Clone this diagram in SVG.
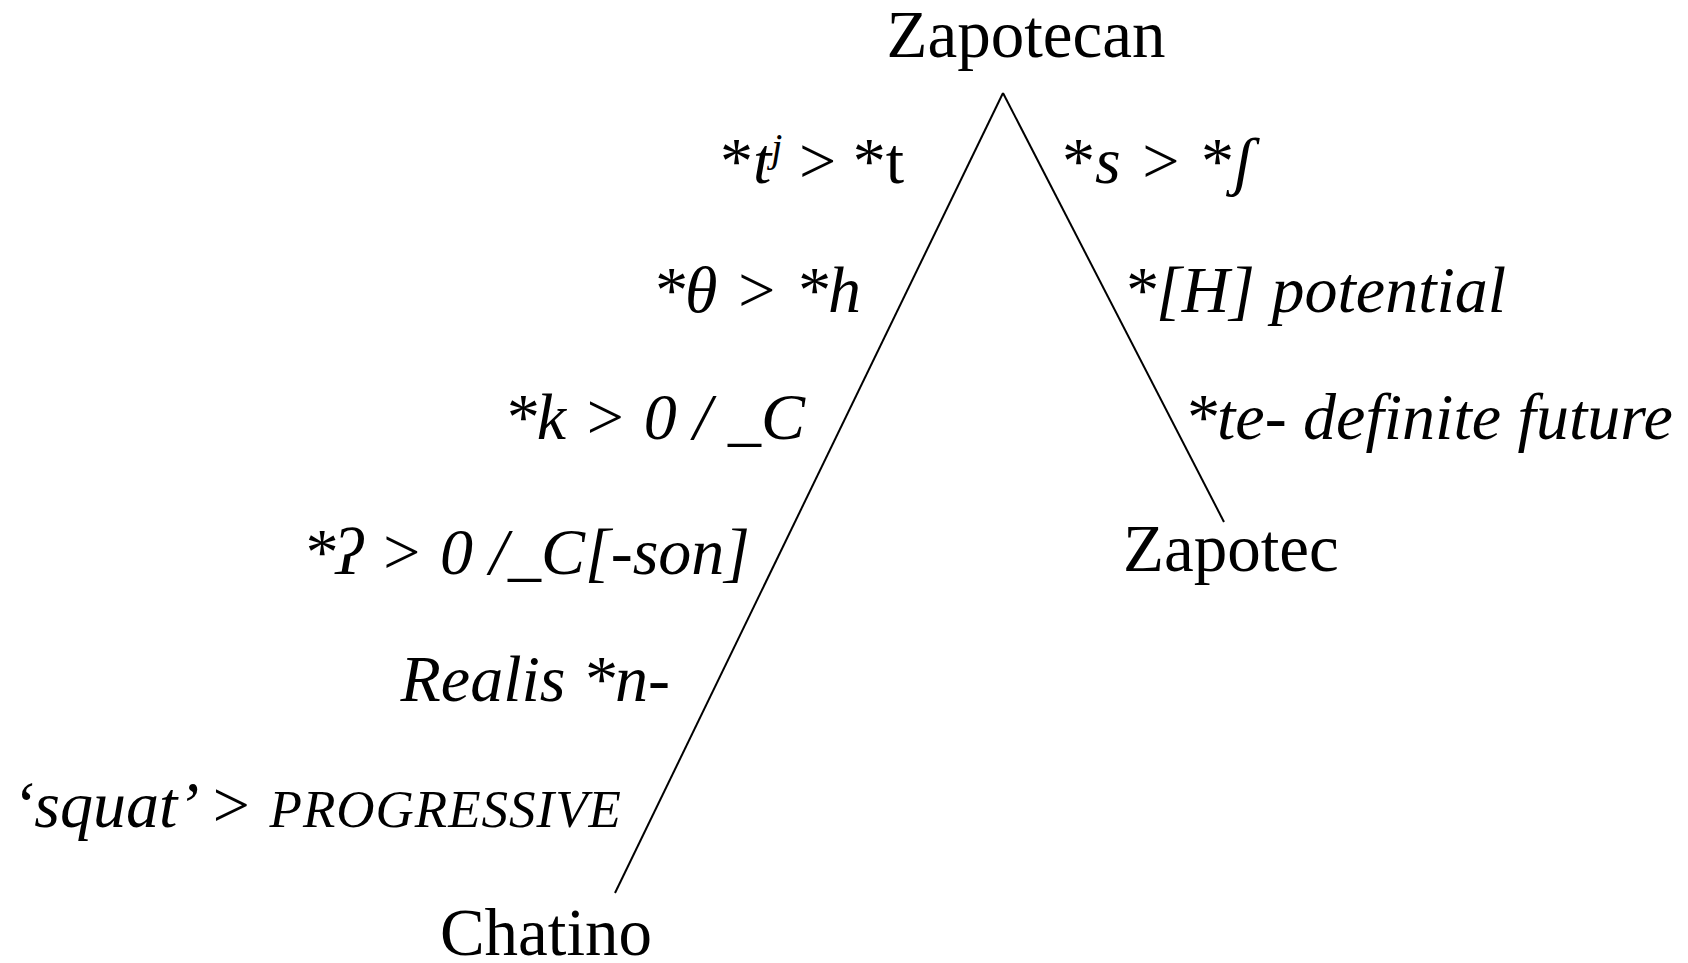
<svg xmlns="http://www.w3.org/2000/svg" width="1688" height="963" viewBox="0 0 1688 963">
<style>
text{font-family:"Liberation Serif","Times New Roman",serif;fill:#000}
.node{font-size:67px}
.lab{font-size:66px;font-style:italic}
.r{font-style:normal}
.sc{font-size:53px;letter-spacing:1px}
.edge{stroke:#000;stroke-width:2;fill:none}
</style>
<rect width="1688" height="963" fill="#fff"/>
<g id="connectors">
<line class="edge" x1="1003" y1="93" x2="615" y2="893"/>
<line class="edge" x1="1003" y1="93" x2="1224" y2="522"/>
</g>
<g id="node-zapotecan"><text class="node" x="1026" y="57" text-anchor="middle">Zapotecan</text></g>
<g id="node-chatino"><text class="node" x="546" y="955" text-anchor="middle">Chatino</text></g>
<g id="node-zapotec"><text class="node" x="1123" y="571">Zapotec</text></g>
<g id="labels-left">
<text class="lab" x="904" y="183" text-anchor="end"><tspan class="r">*</tspan>t<tspan font-size="40" dy="-22">j</tspan><tspan class="r" dy="22"> &gt; *t</tspan></text>
<text class="lab" x="861" y="312" text-anchor="end">*θ &gt; *h</text>
<text class="lab" x="805" y="439" text-anchor="end">*k &gt; 0 / _C</text>
<text class="lab" x="750" y="574" text-anchor="end">*ʔ &gt; 0 /_C[-son]</text>
<text class="lab" x="670" y="701" text-anchor="end">Realis *n-</text>
<text class="lab" x="622" y="827" text-anchor="end">‘squat’ &gt; <tspan class="sc">PROGRESSIVE</tspan></text>
</g>
<g id="labels-right">
<text class="lab" x="1062" y="183" word-spacing="5"><tspan class="r">*</tspan>s<tspan class="r"> &gt; *</tspan>ʃ</text>
<text class="lab" x="1123" y="312">*[H] potential</text>
<text class="lab" x="1184" y="439">*te- definite future</text>
</g>
</svg>
